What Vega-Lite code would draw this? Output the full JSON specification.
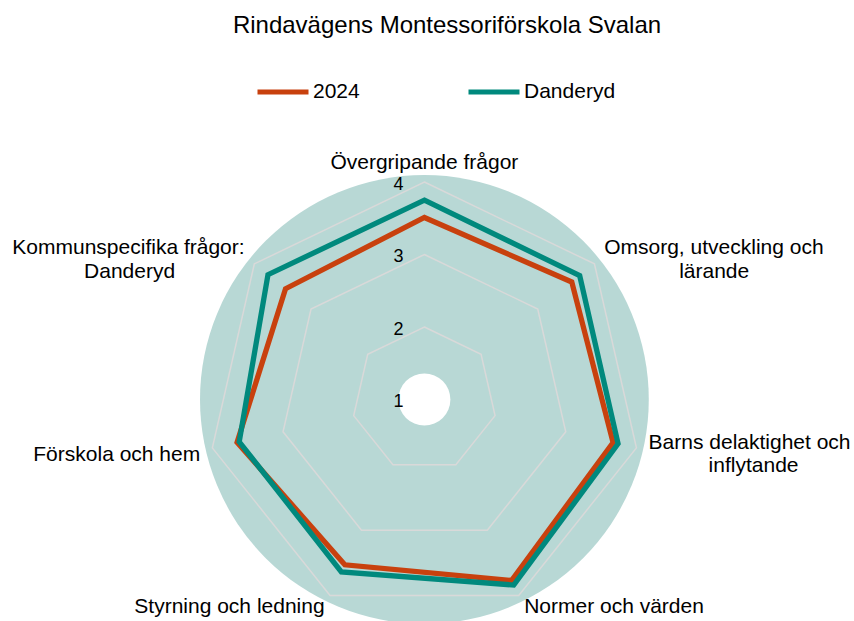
{
  "$schema": "https://vega.github.io/schema/vega-lite/v6.json",
  "width": 854,
  "height": 491,
  "autosize": {"type": "none"},
  "padding": {"top": 130, "left": 0, "right": 0, "bottom": 0},
  "background": "white",
  "config": {"view": {"stroke": null}, "font": "Liberation Sans"},
  "title": {
    "text": "Rindavägens Montessoriförskola Svalan",
    "fontSize": 24,
    "fontWeight": "normal",
    "font": "Liberation Sans",
    "color": "#000000",
    "anchor": "middle",
    "dx": 20,
    "offset": 26
  },
  "datasets": {
    "scores": [
      {"category": "Övergripande frågor", "idx": 0, "series": "2024", "value": 3.51},
      {"category": "Omsorg, utveckling och lärande", "idx": 1, "series": "2024", "value": 3.60},
      {"category": "Barns delaktighet och inflytande", "idx": 2, "series": "2024", "value": 3.67},
      {"category": "Normer och värden", "idx": 3, "series": "2024", "value": 3.77},
      {"category": "Styrning och ledning", "idx": 4, "series": "2024", "value": 3.53},
      {"category": "Förskola och hem", "idx": 5, "series": "2024", "value": 3.65},
      {"category": "Kommunspecifika frågor: Danderyd", "idx": 6, "series": "2024", "value": 3.45},
      {"category": "Övergripande frågor", "idx": 0, "series": "Danderyd", "value": 3.75},
      {"category": "Omsorg, utveckling och lärande", "idx": 1, "series": "Danderyd", "value": 3.74},
      {"category": "Barns delaktighet och inflytande", "idx": 2, "series": "Danderyd", "value": 3.74},
      {"category": "Normer och värden", "idx": 3, "series": "Danderyd", "value": 3.84},
      {"category": "Styrning och ledning", "idx": 4, "series": "Danderyd", "value": 3.64},
      {"category": "Förskola och hem", "idx": 5, "series": "Danderyd", "value": 3.62},
      {"category": "Kommunspecifika frågor: Danderyd", "idx": 6, "series": "Danderyd", "value": 3.76}
    ],
    "grid": [
      {"level": 2, "idx": 0}, {"level": 2, "idx": 1}, {"level": 2, "idx": 2}, {"level": 2, "idx": 3}, {"level": 2, "idx": 4}, {"level": 2, "idx": 5}, {"level": 2, "idx": 6},
      {"level": 3, "idx": 0}, {"level": 3, "idx": 1}, {"level": 3, "idx": 2}, {"level": 3, "idx": 3}, {"level": 3, "idx": 4}, {"level": 3, "idx": 5}, {"level": 3, "idx": 6},
      {"level": 4, "idx": 0}, {"level": 4, "idx": 1}, {"level": 4, "idx": 2}, {"level": 4, "idx": 3}, {"level": 4, "idx": 4}, {"level": 4, "idx": 5}, {"level": 4, "idx": 6}
    ],
    "ticks": [{"tick": 1}, {"tick": 2}, {"tick": 3}, {"tick": 4}],
    "labels": [
      {"idx": 0, "ln": 0, "line": "Övergripande frågor"},
      {"idx": 1, "ln": 0, "line": "Omsorg, utveckling och"},
      {"idx": 1, "ln": 1, "line": "lärande"},
      {"idx": 2, "ln": 0, "line": "Barns delaktighet och"},
      {"idx": 2, "ln": 1, "line": "inflytande"},
      {"idx": 3, "ln": 0, "line": "Normer och värden"},
      {"idx": 4, "ln": 0, "line": "Styrning och ledning"},
      {"idx": 5, "ln": 0, "line": "Förskola och hem"},
      {"idx": 6, "ln": 0, "line": "Kommunspecifika frågor:"},
      {"idx": 6, "ln": 1, "line": "Danderyd"}
    ]
  },
  "layer": [
    {
      "data": {"values": [{"shape": "background"}]},
      "mark": {"type": "point", "shape": "circle", "filled": true, "size": 201400, "color": "#B8D8D5", "opacity": 1, "strokeWidth": 0},
      "encoding": {
        "x": {"datum": 0, "type": "quantitative", "scale": {"domain": [-5.854, 5.926], "nice": false, "zero": false}, "axis": null},
        "y": {"datum": 0, "type": "quantitative", "scale": {"domain": [-3.055, 3.717], "nice": false, "zero": false}, "axis": null}
      }
    },
    {
      "data": {"name": "grid"},
      "transform": [
        {"calculate": "datum.idx * 2 * PI / 7", "as": "a"},
        {"calculate": "(datum.level - 1) * sin(datum.a)", "as": "px"},
        {"calculate": "(datum.level - 1) * cos(datum.a)", "as": "py"}
      ],
      "mark": {"type": "line", "interpolate": "linear-closed", "stroke": "#D9D9D9", "strokeWidth": 1.5},
      "encoding": {
        "x": {"field": "px", "type": "quantitative", "scale": {"domain": [-5.854, 5.926], "nice": false, "zero": false}, "axis": null},
        "y": {"field": "py", "type": "quantitative", "scale": {"domain": [-3.055, 3.717], "nice": false, "zero": false}, "axis": null},
        "detail": {"field": "level"},
        "order": {"field": "idx", "type": "quantitative"}
      }
    },
    {
      "data": {"name": "scores"},
      "transform": [
        {"calculate": "datum.idx * 2 * PI / 7", "as": "a"},
        {"calculate": "(datum.value - 1) * sin(datum.a)", "as": "px"},
        {"calculate": "(datum.value - 1) * cos(datum.a)", "as": "py"}
      ],
      "mark": {"type": "line", "interpolate": "linear-closed", "strokeWidth": 5.3, "strokeJoin": "miter"},
      "encoding": {
        "x": {"field": "px", "type": "quantitative", "scale": {"domain": [-5.854, 5.926], "nice": false, "zero": false}, "axis": null},
        "y": {"field": "py", "type": "quantitative", "scale": {"domain": [-3.055, 3.717], "nice": false, "zero": false}, "axis": null},
        "color": {
          "field": "series",
          "type": "nominal",
          "scale": {"domain": ["2024", "Danderyd"], "range": ["#C8410E", "#00897D"]},
          "legend": {
            "orient": "none",
            "legendX": 255,
            "legendY": -66,
            "direction": "horizontal",
            "title": null,
            "symbolType": "stroke",
            "symbolSize": 2601,
            "symbolStrokeWidth": 5,
            "labelFontSize": 21,
            "labelFont": "Liberation Sans",
            "labelColor": "#000000",
            "labelOffset": 2,
            "columnPadding": 98,
            "padding": 0
          }
        },
        "order": {"field": "idx", "type": "quantitative"}
      }
    },
    {
      "data": {"values": [{"shape": "hole"}]},
      "mark": {"type": "point", "shape": "circle", "filled": true, "size": 2704, "color": "#FFFFFF", "opacity": 1, "strokeWidth": 0},
      "encoding": {
        "x": {"datum": 0, "type": "quantitative", "scale": {"domain": [-5.854, 5.926], "nice": false, "zero": false}, "axis": null},
        "y": {"datum": 0, "type": "quantitative", "scale": {"domain": [-3.055, 3.717], "nice": false, "zero": false}, "axis": null}
      }
    },
    {
      "data": {"name": "ticks"},
      "transform": [{"calculate": "datum.tick - 1", "as": "py"}],
      "mark": {"type": "text", "fontSize": 18, "align": "center", "baseline": "middle", "dx": -26, "dy": 3, "color": "#000000"},
      "encoding": {
        "x": {"datum": 0, "type": "quantitative", "scale": {"domain": [-5.854, 5.926], "nice": false, "zero": false}, "axis": null},
        "y": {"field": "py", "type": "quantitative", "scale": {"domain": [-3.055, 3.717], "nice": false, "zero": false}, "axis": null},
        "text": {"field": "tick", "type": "nominal"}
      }
    },
    {
      "data": {"name": "labels"},
      "transform": [
        {"calculate": "datum.idx * 2 * PI / 7", "as": "a"},
        {"calculate": "length(datum.line)", "as": "len"},
        {"joinaggregate": [{"op": "max", "field": "len", "as": "W"}, {"op": "count", "as": "n"}], "groupby": ["idx"]},
        {"calculate": "sin(datum.a) > 0.2 ? 1 : (sin(datum.a) < -0.2 ? -1 : 0)", "as": "side"},
        {"calculate": "3.172 * sin(datum.a) + (datum.ln > 0 ? datum.side * datum.W * 10 / 72.5 / 2 : 0)", "as": "px"},
        {"calculate": "3.172 * cos(datum.a) + (cos(datum.a) > 0.9 ? 0.138 : 0) + (cos(datum.a) < -0.5 ? 0.05 : 0) - 0.055 - (datum.ln - (datum.n - 1) / 2) * 0.321", "as": "py"}
      ],
      "mark": {
        "type": "text",
        "fontSize": 21,
        "baseline": "middle",
        "color": "#000000",
        "align": {"expr": "(datum.ln > 0 || datum.side == 0) ? 'center' : (datum.side > 0 ? 'left' : 'right')"}
      },
      "encoding": {
        "x": {"field": "px", "type": "quantitative", "scale": {"domain": [-5.854, 5.926], "nice": false, "zero": false}, "axis": null},
        "y": {"field": "py", "type": "quantitative", "scale": {"domain": [-3.055, 3.717], "nice": false, "zero": false}, "axis": null},
        "text": {"field": "line", "type": "nominal"}
      }
    }
  ]
}
